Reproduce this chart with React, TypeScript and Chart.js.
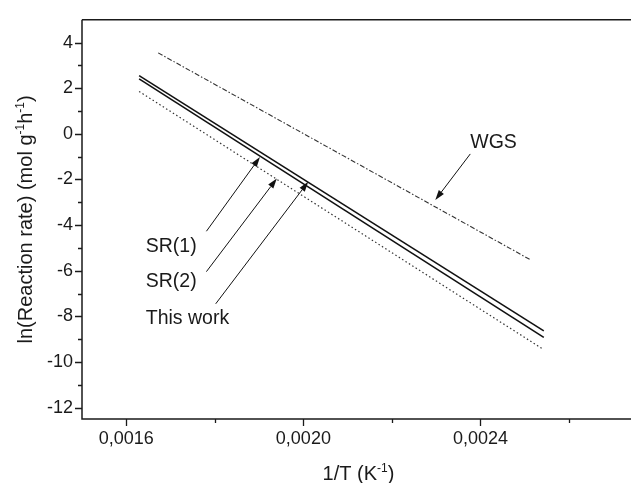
import React, { useEffect, useRef } from "react";
import { Chart, registerables } from "chart.js";

Chart.register(...registerables);

// ---- data ----
const xMajorTicks = [0.0016, 0.002, 0.0024];
const xMinorTicks = [0.0018, 0.0022, 0.0026];
const yMajorTicks = [-12, -10, -8, -6, -4, -2, 0, 2, 4];
const yMinorTicks = [-11, -9, -7, -5, -3, -1, 1, 3];

const thisWorkX = [0.001629, 0.002543];
const thisWorkY = [2.55, -8.64];
const srOneX = [0.001629, 0.002543];
const srOneY = [2.41, -8.92];
const srTwoX = [0.001629, 0.002543];
const srTwoY = [1.86, -9.46];
const wgsX = [0.001672, 0.002511];
const wgsY = [3.55, -5.5];

const labelNames = ["SR(1)", "SR(2)", "This work", "WGS"];
const labelX = [0.001644, 0.001644, 0.001644, 0.002377];
const labelY = [-5.16, -6.7, -8.35, -0.61];
const arrowTailX = [0.001781, 0.001781, 0.001802, 0.002377];
const arrowTailY = [-4.27, -6.04, -7.45, -0.88];
const arrowHeadX = [0.001902, 0.00194, 0.002011, 0.002298];
const arrowHeadY = [-1.02, -1.96, -2.1, -2.9];

const xTitleParts = [
  { t: "1/T (K", sup: false },
  { t: "-1", sup: true },
  { t: ")", sup: false },
];
const yTitleParts = [
  { t: "ln(Reaction rate) (mol g", sup: false },
  { t: "-1", sup: true },
  { t: "h", sup: false },
  { t: "-1", sup: true },
  { t: ")", sup: false },
];

const FONT = "'Liberation Sans', Arial, Helvetica, sans-serif";

const toPts = (xs: number[], ys: number[]) => xs.map((x, i) => ({ x, y: ys[i] }));
const isMajorX = (v: number) => xMajorTicks.some((m) => Math.abs(m - v) < 1e-9);

function richWidth(ctx: CanvasRenderingContext2D, parts: any[], size: number, supSize: number) {
  let w = 0;
  for (const p of parts) {
    ctx.font = `${p.sup ? supSize : size}px ${FONT}`;
    w += ctx.measureText(p.t).width;
  }
  return w;
}

function drawRich(ctx: CanvasRenderingContext2D, parts: any[], cx: number, baseline: number, size: number) {
  const supSize = Math.round(size * 0.62);
  const total = richWidth(ctx, parts, size, supSize);
  let x = cx - total / 2;
  ctx.textAlign = "left";
  ctx.textBaseline = "alphabetic";
  for (const p of parts) {
    ctx.font = `${p.sup ? supSize : size}px ${FONT}`;
    ctx.fillText(p.t, x, p.sup ? baseline - size * 0.42 : baseline);
    x += ctx.measureText(p.t).width;
  }
}

const decorPlugin = {
  id: "decor",
  afterDraw(chart: any) {
    const { ctx, chartArea, scales } = chart;
    const xs = scales.x;
    const ys = scales.y;
    const { left, right, top, bottom } = chartArea;
    ctx.save();
    ctx.strokeStyle = "#1a1a1a";
    ctx.lineWidth = 1.5;
    // frame: left, bottom, top
    ctx.beginPath();
    ctx.moveTo(left, top);
    ctx.lineTo(left, bottom);
    ctx.lineTo(right + 2, bottom);
    ctx.moveTo(left, top);
    ctx.lineTo(right + 2, top);
    ctx.stroke();
    // ticks
    ctx.lineWidth = 1.3;
    ctx.beginPath();
    for (const v of xMajorTicks) {
      const px = Math.round(xs.getPixelForValue(v)) + 0.5;
      ctx.moveTo(px, bottom);
      ctx.lineTo(px, bottom + 7);
    }
    for (const v of xMinorTicks) {
      const px = Math.round(xs.getPixelForValue(v)) + 0.5;
      ctx.moveTo(px, bottom);
      ctx.lineTo(px, bottom + 4);
    }
    for (const v of yMajorTicks) {
      const py = Math.round(ys.getPixelForValue(v)) + 0.5;
      ctx.moveTo(left, py);
      ctx.lineTo(left - 7, py);
    }
    for (const v of yMinorTicks) {
      const py = Math.round(ys.getPixelForValue(v)) + 0.5;
      ctx.moveTo(left, py);
      ctx.lineTo(left - 4, py);
    }
    ctx.stroke();

    // axis titles
    ctx.fillStyle = "#1a1a1a";
    drawRich(ctx, xTitleParts, (left + right) / 2 + 2, bottom + 61, 20);
    ctx.save();
    ctx.translate(left - 50, (top + bottom) / 2);
    ctx.rotate(-Math.PI / 2);
    drawRich(ctx, yTitleParts, 0, 0, 20);
    ctx.restore();

    // annotations
    ctx.font = `19.5px ${FONT}`;
    ctx.textAlign = "left";
    ctx.textBaseline = "alphabetic";
    labelNames.forEach((name, i) => {
      ctx.fillText(name, xs.getPixelForValue(labelX[i]), ys.getPixelForValue(labelY[i]));
    });
    ctx.lineWidth = 1;
    ctx.strokeStyle = "#111";
    ctx.fillStyle = "#111";
    arrowTailX.forEach((tx, i) => {
      const x0 = xs.getPixelForValue(tx);
      const y0 = ys.getPixelForValue(arrowTailY[i]);
      const x1 = xs.getPixelForValue(arrowHeadX[i]);
      const y1 = ys.getPixelForValue(arrowHeadY[i]);
      const ang = Math.atan2(y1 - y0, x1 - x0);
      const hl = 10;
      const hw = 3.2;
      const bx = x1 - hl * Math.cos(ang);
      const by = y1 - hl * Math.sin(ang);
      ctx.beginPath();
      ctx.moveTo(x0, y0);
      ctx.lineTo(bx, by);
      ctx.stroke();
      ctx.beginPath();
      ctx.moveTo(x1, y1);
      ctx.lineTo(bx + hw * Math.sin(ang), by - hw * Math.cos(ang));
      ctx.lineTo(bx - hw * Math.sin(ang), by + hw * Math.cos(ang));
      ctx.closePath();
      ctx.fill();
    });
    ctx.restore();
  },
};

export default function App() {
  const ref = useRef<HTMLCanvasElement | null>(null);
  useEffect(() => {
    if (!ref.current) return;
    const chart = new Chart(ref.current, {
      type: "line",
      data: {
        datasets: [
          {
            label: "This work",
            data: toPts(thisWorkX, thisWorkY),
            borderColor: "#111",
            borderWidth: 1.6,
            pointRadius: 0,
          },
          {
            label: "SR(1)",
            data: toPts(srOneX, srOneY),
            borderColor: "#111",
            borderWidth: 1.6,
            pointRadius: 0,
          },
          {
            label: "SR(2)",
            data: toPts(srTwoX, srTwoY),
            borderColor: "#333",
            borderWidth: 1.2,
            borderDash: [1.5, 2.5],
            pointRadius: 0,
          },
          {
            label: "WGS",
            data: toPts(wgsX, wgsY),
            borderColor: "#333",
            borderWidth: 1.1,
            borderDash: [5, 2, 1.5, 2],
            pointRadius: 0,
          },
        ],
      },
      options: {
        animation: false,
        responsive: true,
        maintainAspectRatio: false,
        layout: { padding: { top: 14, right: 0, left: 0, bottom: 0 } },
        plugins: { legend: { display: false }, tooltip: { enabled: false } },
        scales: {
          x: {
            type: "linear",
            min: 0.0015,
            max: 0.00274,
            grid: { display: false, drawTicks: false },
            border: { display: false },
            afterBuildTicks: (s: any) => {
              s.ticks = [...xMajorTicks, ...xMinorTicks]
                .sort((a, b) => a - b)
                .map((v) => ({ value: v }));
            },
            afterFit: (s: any) => {
              s.height = 64;
            },
            ticks: {
              autoSkip: false,
              maxRotation: 0,
              padding: 9,
              color: "#1a1a1a",
              font: { family: FONT, size: 18 },
              callback: (v: any) => (isMajorX(Number(v)) ? Number(v).toFixed(4).replace(".", ",") : ""),
            },
          },
          y: {
            type: "linear",
            min: -12.5,
            max: 5,
            grid: { display: false, drawTicks: false },
            border: { display: false },
            afterBuildTicks: (s: any) => {
              s.ticks = yMajorTicks.map((v) => ({ value: v }));
            },
            afterFit: (s: any) => {
              s.width = 82;
            },
            ticks: {
              autoSkip: false,
              padding: 9,
              color: "#1a1a1a",
              font: { family: FONT, size: 18 },
              callback: (v: any) => String(v),
            },
          },
        },
      },
      plugins: [decorPlugin],
    });
    return () => chart.destroy();
  }, []);
  return (
    <div style={{ position: "fixed", left: 0, top: 0, width: 631, height: 483, background: "#fff" }}>
      <canvas ref={ref} />
    </div>
  );
}
